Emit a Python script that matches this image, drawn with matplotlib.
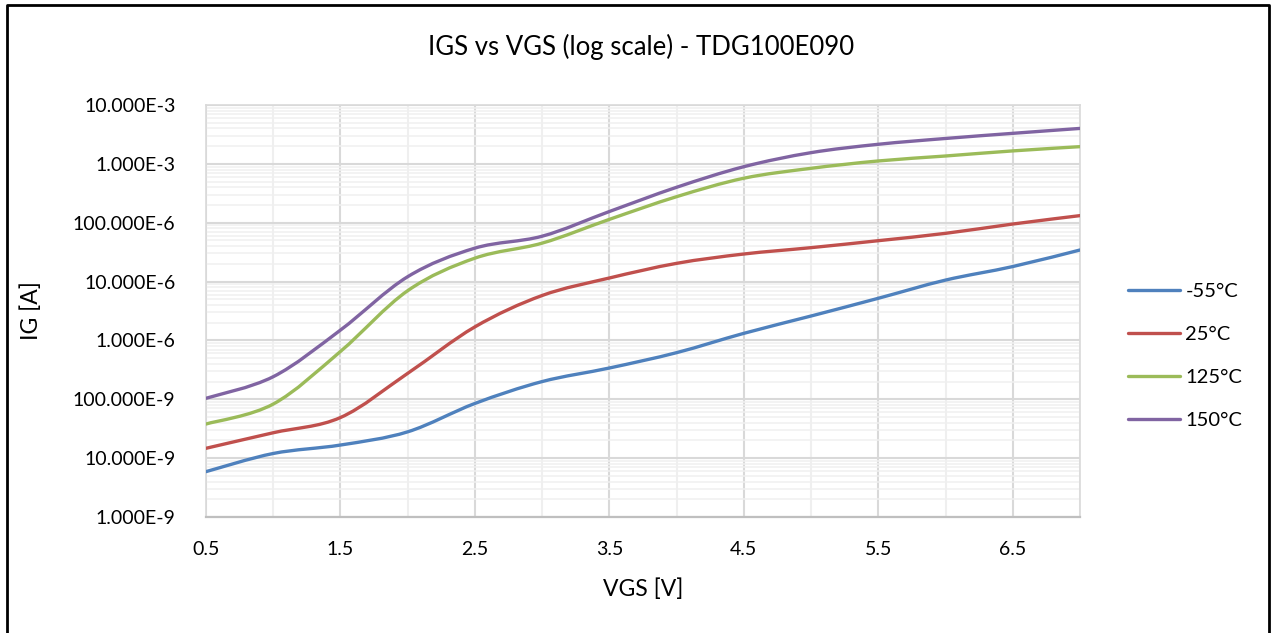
import numpy as np
import matplotlib.pyplot as plt
from matplotlib.path import Path
from matplotlib.patches import PathPatch
from matplotlib.ticker import FixedLocator, LogLocator, NullFormatter
from matplotlib.lines import Line2D

vgs = [0.5, 1.0, 1.5, 2.0, 2.5, 3.0, 3.5, 4.0, 4.5, 5.0, 5.5, 6.0, 6.5, 7.0]
ig_m55 = [5.9e-9, 1.2e-8, 1.67e-8, 2.8e-8, 8.5e-8, 2.0e-7, 3.4e-7, 6.2e-7,
          1.32e-6, 2.6e-6, 5.2e-6, 1.06e-5, 1.8e-5, 3.44e-5]
ig_25 = [1.47e-8, 2.7e-8, 4.9e-8, 2.76e-7, 1.7e-6, 5.8e-6, 1.15e-5, 2.04e-5,
         2.94e-5, 3.77e-5, 4.95e-5, 6.6e-5, 9.5e-5, 1.32e-4]
ig_125 = [3.8e-8, 8.3e-8, 6.5e-7, 7.0e-6, 2.5e-5, 4.5e-5, 1.14e-4, 2.77e-4,
          5.7e-4, 8.4e-4, 1.12e-3, 1.36e-3, 1.66e-3, 1.96e-3]
ig_150 = [1.04e-7, 2.42e-7, 1.5e-6, 1.21e-5, 3.7e-5, 5.9e-5, 1.55e-4, 4.0e-4,
          8.95e-4, 1.55e-3, 2.15e-3, 2.7e-3, 3.3e-3, 4.0e-3]

series = [('-55°C', ig_m55, '#4f81bd'),
          ('25°C', ig_25, '#c0504d'),
          ('125°C', ig_125, '#9bbb59'),
          ('150°C', ig_150, '#8064a2')]

ytick_vals = [1e-9, 1e-8, 1e-7, 1e-6, 1e-5, 1e-4, 1e-3, 1e-2]
ytick_labels = ['1.000E-9', '10.000E-9', '100.000E-9', '1.000E-6',
                '10.000E-6', '100.000E-6', '1.000E-3', '10.000E-3']
xtick_vals = [0.5, 1.5, 2.5, 3.5, 4.5, 5.5, 6.5]


def smooth_path(x, y):
    # bezier through the points, built in log space so it stays smooth on log axes
    lx = np.array(x, dtype=float)
    ly = np.log10(np.array(y, dtype=float))
    n = len(lx)
    verts = [(lx[0], ly[0])]
    codes = [Path.MOVETO]
    for i in range(n - 1):
        p0 = (lx[max(i - 1, 0)], ly[max(i - 1, 0)])
        p1 = (lx[i], ly[i])
        p2 = (lx[i + 1], ly[i + 1])
        p3 = (lx[min(i + 2, n - 1)], ly[min(i + 2, n - 1)])
        c1 = (p1[0] + (p2[0] - p0[0]) / 6, p1[1] + (p2[1] - p0[1]) / 6)
        c2 = (p2[0] - (p3[0] - p1[0]) / 6, p2[1] - (p3[1] - p1[1]) / 6)
        verts += [c1, c2, p2]
        codes += [Path.CURVE4] * 3
    verts = [(vx, 10 ** vy) for vx, vy in verts]
    return Path(verts, codes)


plt.rcParams['font.family'] = ['Lato', 'DejaVu Sans']

fig = plt.figure(figsize=(12.74, 6.33), dpi=100)
ax = fig.add_axes([206 / 1274, 1 - 517 / 633, 874 / 1274, 412 / 633])
ax.set_yscale('log')
ax.set_xlim(0.5, 7.0)
ax.set_ylim(1e-9, 1e-2)

# grid
for v in np.arange(0.5, 7.01, 0.5):
    major = abs((v - 0.5) % 1.0) < 1e-9
    ax.axvline(v, color='#d9d9d9' if major else '#efefef', lw=1.5, zorder=0)
ax.yaxis.set_major_locator(FixedLocator(ytick_vals))
ax.yaxis.set_minor_locator(LogLocator(base=10, subs=np.arange(2, 10)))
ax.yaxis.set_minor_formatter(NullFormatter())
ax.grid(True, which='major', axis='y', color='#d9d9d9', lw=1.5, zorder=0)
ax.grid(True, which='minor', axis='y', color='#f0f0f0', lw=1.1, zorder=0)
ax.set_yticklabels(ytick_labels)
ax.set_xticks(xtick_vals)
ax.set_xticklabels([str(v) for v in xtick_vals])
ax.tick_params(axis='both', which='both', length=0, labelsize=14, colors='#000000')
ax.tick_params(axis='x', pad=17)
ax.tick_params(axis='y', pad=22)
for side in ['top', 'right', 'left']:
    ax.spines[side].set_color('#d9d9d9')
    ax.spines[side].set_linewidth(1.2)
ax.spines['bottom'].set_color('#bfbfbf')
ax.spines['bottom'].set_linewidth(1.6)

handles = []
for name, vals, color in series:
    patch = PathPatch(smooth_path(vgs, vals), facecolor='none', edgecolor=color,
                      lw=2.4, capstyle='round', zorder=3)
    ax.add_patch(patch)
    handles.append(Line2D([], [], color=color, lw=2.4, solid_capstyle='round', label=name))

ax.set_xlabel('VGS [V]', fontsize=16.5)
ax.xaxis.set_label_coords(0.5, (517 - 578) / 412)
ax.set_ylabel('IG [A]', fontsize=16.5)
ax.yaxis.set_label_coords((42 - 206) / 874, 0.5)
fig.text(0.503, 1 - 47 / 633, 'IGS vs VGS (log scale) - TDG100E090',
         ha='center', va='center', fontsize=18.5)

fig.legend(handles=handles, loc='center left', bbox_to_anchor=(1118 / 1274, 1 - 356 / 633),
           frameon=False, fontsize=14.5, handlelength=2.6, handletextpad=0.25,
           labelspacing=1.3, borderpad=0)

# chart border
fig.add_artist(Line2D([7 / 1274, 7 / 1274, 1269 / 1274, 1269 / 1274],
                      [0, 1 - 5 / 633, 1 - 5 / 633, 0],
                      transform=fig.transFigure, color='black', lw=2))

fig.savefig('out.png', dpi=100)
